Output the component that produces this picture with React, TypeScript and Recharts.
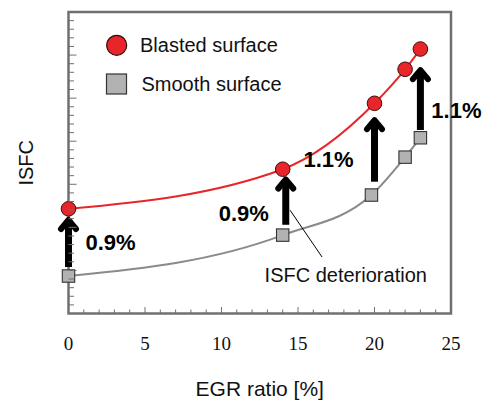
import React from 'react';
import {
  LineChart,
  Line,
  XAxis,
  YAxis,
  ReferenceArea,
  ReferenceLine,
  ReferenceDot,
  Legend,
  Label,
} from 'recharts';

// Axis ticks (every unit; labels only on multiples of 5 for EGR)
const egrTicks = [0, 1, 2, 3, 4, 5, 6, 7, 8, 9, 10, 11, 12, 13, 14, 15, 16, 17, 18, 19, 20, 21, 22, 23, 24, 25];
const isfcTicks = [0, 1, 2, 3, 4, 5, 6, 7, 8, 9, 10, 11, 12, 13, 14, 15, 16, 17, 18, 19, 20, 21, 22, 23, 24, 25, 26, 27, 28, 29, 30, 31, 32, 33, 34, 35];

// Blasted surface series
const blastedEgr = [0, 14, 20, 22, 23];
const blastedIsfc = [12.15, 16.75, 24.4, 28.35, 30.7];

// Smooth surface series
const smoothEgr = [0, 14, 19.8, 22, 23];
const smoothIsfc = [4.35, 9.1, 13.75, 18.15, 20.4];

// Deterioration arrows: position, base, tip and the percentage shown beside them
const arrowEgr = [0, 14.2, 20, 23];
const arrowBase = [5.4, 10.3, 15.3, 21.3];
const arrowTip = [11.2, 15.9, 22.8, 28.6];
const arrowLabels = ['0.9%', '0.9%', '1.1%', '1.1%'];

// Callout leader line and its caption
const leaderEgr = [14.48, 16.57];
const leaderIsfc = [12.0, 6.56];
const calloutEgr = 18.12;
const calloutIsfc = 3.71;
const calloutText = 'ISFC deterioration';

const blastedData = blastedEgr.map((egr, i) => ({ egr, isfc: blastedIsfc[i] }));
const smoothData = smoothEgr.map((egr, i) => ({ egr, isfc: smoothIsfc[i] }));

const SANS = '"Liberation Sans", Arial, Helvetica, sans-serif';
const SERIF = '"Liberation Serif", "Times New Roman", serif';
const FRAME = '#707070';
const RED = '#e8262a';
const GREY_FILL = '#b2b2b2';
const GREY_LINE = '#8a8a8a';

// Per-arrow label offset from the arrow midpoint (px)
const labelOffsets = [
  { dx: 42, dy: 0 },
  { dx: -42, dy: 13 },
  { dx: -46, dy: 10 },
  { dx: 36, dy: 12 },
];

const XTick = (props: any) => {
  const { x, y, payload } = props;
  const v = payload.value;
  const major = v % 5 === 0;
  return (
    <g>
      <line x1={x} y1={y} x2={x} y2={y - (major ? 6.5 : 4)} stroke={FRAME} strokeWidth={1} />
      {major && (
        <text x={x} y={y + 36.5} textAnchor="middle" fontFamily={SERIF} fontSize={19} fill="#111">
          {v}
        </text>
      )}
    </g>
  );
};

const YTick = (props: any) => {
  const { x, y, payload } = props;
  const major = payload.value % 5 === 0;
  return <line x1={x} y1={y} x2={x + (major ? 8 : 5.5)} y2={y} stroke={FRAME} strokeWidth={1} />;
};

const BlastedDot = (props: any) => {
  const { cx, cy, index } = props;
  return <circle key={`b${index}`} cx={cx} cy={cy} r={7.3} fill={RED} stroke="#3a0d0d" strokeWidth={1} />;
};

const SmoothDot = (props: any) => {
  const { cx, cy, index } = props;
  return (
    <rect key={`s${index}`} x={cx - 6.2} y={cy - 6.2} width={12.4} height={12.4} fill={GREY_FILL} stroke="#333" strokeWidth={1.1} />
  );
};

const makeArrow = (i: number) => (props: any) => {
  const { x1, y1, x2, y2 } = props;
  const x = x1;
  const base = Math.max(y1, y2);
  const tip = Math.min(y1, y2);
  const mid = (base + tip) / 2;
  const off = labelOffsets[i];
  return (
    <g>
      <line x1={x} y1={base} x2={x2} y2={tip + 5} stroke="#000" strokeWidth={7} />
      <polyline
        points={`${x - 7.5},${tip + 12} ${x},${tip + 3} ${x + 7.5},${tip + 12}`}
        fill="none"
        stroke="#000"
        strokeWidth={6}
        strokeLinecap="round"
        strokeLinejoin="round"
      />
      <text
        x={x + off.dx}
        y={mid + off.dy}
        textAnchor="middle"
        dominantBaseline="central"
        fontFamily={SANS}
        fontWeight="bold"
        fontSize={22}
        fill="#000"
      >
        {arrowLabels[i]}
      </text>
    </g>
  );
};

const LegendBox = (props: any) => {
  const items = props.payload || [];
  return (
    <svg width={230} height={70} style={{ display: 'block', overflow: 'visible' }}>
      {items.map((it: any, i: number) => {
        const cy = 15.3 + i * 38.7;
        return (
          <g key={i}>
            {it.type === 'circle' ? (
              <circle cx={20.7} cy={cy} r={10} fill={RED} stroke="#3a0d0d" strokeWidth={1.2} />
            ) : (
              <rect x={10.5} y={cy - 10} width={20} height={20} fill={GREY_FILL} stroke="#333" strokeWidth={1.2} />
            )}
            <text x={i === 0 ? 44 : 45.5} y={cy + 7} fontFamily={SANS} fontSize={20} fill="#111">
              {it.value}
            </text>
          </g>
        );
      })}
    </svg>
  );
};

export default function App() {
  return (
    <div style={{ position: 'absolute', left: 0, top: 0, background: '#fff' }}>
      <LineChart width={487} height={403} margin={{ top: 12, right: 36, bottom: 88.5, left: 67.5 }}>
        <XAxis
          type="number"
          dataKey="egr"
          domain={[0, 25]}
          ticks={egrTicks}
          interval={0}
          tickSize={0}
          tickMargin={0}
          axisLine={false}
          tickLine={false}
          tick={<XTick />}
          height={1}
        >
          <Label
            content={(p: any) => {
              const vb = p.viewBox;
              return (
                <text x={vb.x + vb.width / 2} y={vb.y + 82.5} textAnchor="middle" fontFamily={SANS} fontSize={21} fill="#111">
                  EGR ratio [%]
                </text>
              );
            }}
          />
        </XAxis>
        <YAxis
          type="number"
          domain={[0, 35]}
          ticks={isfcTicks}
          interval={0}
          tickSize={0}
          tickMargin={0}
          axisLine={false}
          tickLine={false}
          tick={<YTick />}
          width={1}
        >
          <Label
            content={(p: any) => {
              const vb = p.viewBox;
              const cx = vb.x + vb.width - 43;
              const cy = vb.y + vb.height / 2;
              return (
                <text
                  x={cx}
                  y={cy}
                  transform={`rotate(-90 ${cx} ${cy})`}
                  textAnchor="middle"
                  dominantBaseline="central"
                  fontFamily={SANS}
                  fontSize={20}
                  fill="#111"
                >
                  ISFC
                </text>
              );
            }}
          />
        </YAxis>
        <ReferenceArea x1={0} x2={25} y1={0} y2={35} fill="none" stroke={FRAME} strokeWidth={2.5} ifOverflow="visible" />
        <Legend
          layout="vertical"
          verticalAlign="middle"
          align="center"
          wrapperStyle={{ left: 96, top: 30 }}
          content={<LegendBox />}
        />
        <Line
          data={smoothData}
          dataKey="isfc"
          name="Smooth surface"
          type="monotone"
          stroke={GREY_LINE}
          strokeWidth={2}
          dot={SmoothDot}
          legendType="square"
          isAnimationActive={false}
        />
        <Line
          data={blastedData}
          dataKey="isfc"
          name="Blasted surface"
          type="monotone"
          stroke={RED}
          strokeWidth={2}
          dot={BlastedDot}
          legendType="circle"
          isAnimationActive={false}
        />
        {arrowEgr.map((x, i) => (
          <ReferenceLine
            key={`arrow${i}`}
            segment={[
              { x, y: arrowBase[i] },
              { x, y: arrowTip[i] },
            ]}
            ifOverflow="visible"
            shape={makeArrow(i)}
          />
        ))}
        <ReferenceLine
          segment={[
            { x: leaderEgr[0], y: leaderIsfc[0] },
            { x: leaderEgr[1], y: leaderIsfc[1] },
          ]}
          stroke="#000"
          strokeWidth={1}
          ifOverflow="visible"
        />
        <ReferenceDot
          x={calloutEgr}
          y={calloutIsfc}
          r={0}
          ifOverflow="visible"
          shape={(p: any) => (
            <text x={p.cx} y={p.cy} textAnchor="middle" fontFamily={SANS} fontSize={20} fill="#111">
              {calloutText}
            </text>
          )}
        />
      </LineChart>
    </div>
  );
}
